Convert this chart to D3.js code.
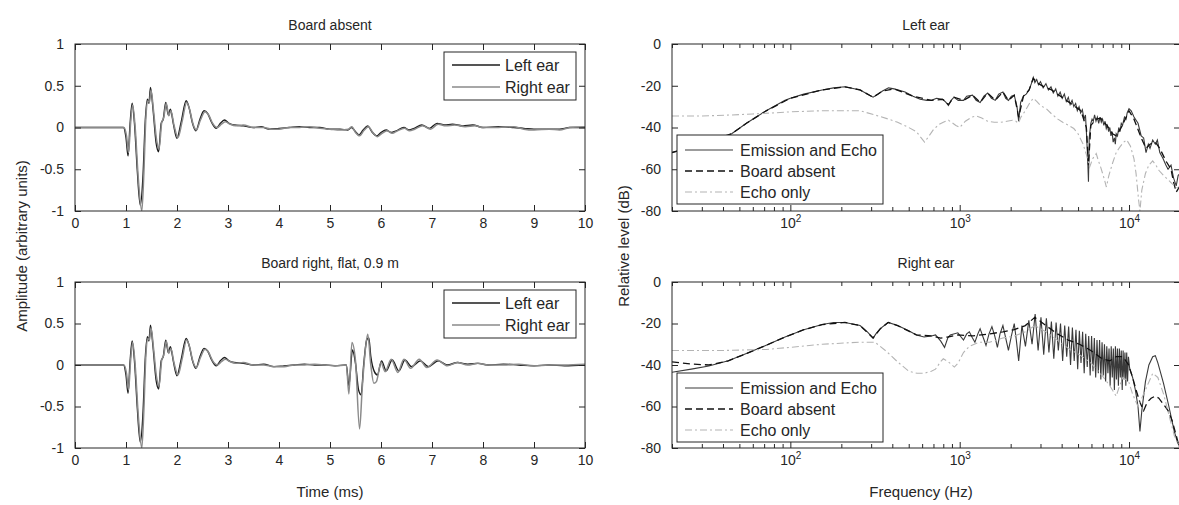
<!DOCTYPE html>
<html>
<head>
<meta charset="utf-8">
<script src="https://cdn.jsdelivr.net/npm/d3@7"></script>
<style>
  body { margin: 0; background: #fff; }
  text { font-family: "Liberation Sans", Arial, sans-serif; fill: #262626; }
</style>
</head>
<body>
<svg id="chart" width="1179" height="505"></svg>
<script>
// ---- data ----
const timeTicks = [0, 1, 2, 3, 4, 5, 6, 7, 8, 9, 10];
const ampTicks = [-1, -0.5, 0, 0.5, 1];
const dbTicks = [-80, -60, -40, -20, 0];
const freqMajor = [100, 1000, 10000];
const freqMinor = [20, 30, 40, 50, 60, 70, 80, 90, 200, 300, 400, 500, 600, 700, 800, 900,
  2000, 3000, 4000, 5000, 6000, 7000, 8000, 9000, 20000];

// emission part (t < 3.2 ms), same in both time panels
const emissionLeft = [[0,0],[0.95,0],[1.0,-0.12],[1.04,-0.34],[1.08,0.04],[1.12,0.29],[1.17,0.02],[1.22,-0.5],[1.28,-0.93],[1.33,-0.62],[1.38,0.1],[1.42,0.34],[1.45,0.29],[1.48,0.48],[1.53,0.22],[1.59,-0.18],[1.64,-0.29],[1.69,0.05],[1.73,0.1],[1.78,0.3],[1.83,0.15],[1.87,0.22],[1.93,0.04],[2.0,-0.13],[2.08,0.06],[2.18,0.32],[2.24,0.23],[2.3,0.06],[2.37,-0.04],[2.45,0.1],[2.53,0.2],[2.6,0.17],[2.68,0.06],[2.77,-0.01],[2.85,0.05],[2.93,0.09],[3.02,0.05],[3.12,0.03]];
const emissionRight = [[0,0],[0.96,0],[1.01,-0.1],[1.05,-0.3],[1.09,0.05],[1.13,0.27],[1.18,0.0],[1.24,-0.6],[1.31,-1.0],[1.35,-0.55],[1.39,0.12],[1.43,0.32],[1.46,0.3],[1.49,0.45],[1.54,0.2],[1.6,-0.15],[1.65,-0.25],[1.7,0.06],[1.74,0.12],[1.79,0.29],[1.84,0.14],[1.88,0.2],[1.94,0.03],[2.02,-0.12],[2.1,0.07],[2.19,0.3],[2.25,0.21],[2.31,0.05],[2.38,-0.03],[2.46,0.09],[2.55,0.19],[2.62,0.15],[2.7,0.05],[2.79,0.0],[2.87,0.04],[2.95,0.07],[3.04,0.04],[3.15,0.02]];

// tails after 3.2 ms
const absentTailLeft = [[3.3,0.02],[3.5,0.0],[3.65,0.01],[3.8,-0.02],[4.0,-0.01],[4.2,0.0],[4.4,0.01],[4.6,0.0],[4.8,0.0],[5.0,-0.02],[5.2,-0.02],[5.35,-0.03],[5.42,0.0],[5.5,-0.05],[5.57,-0.09],[5.65,-0.03],[5.74,0.02],[5.82,-0.05],[5.92,-0.1],[6.0,-0.06],[6.1,-0.03],[6.2,-0.06],[6.3,-0.04],[6.45,0.0],[6.55,-0.03],[6.65,-0.01],[6.8,0.03],[6.95,-0.01],[7.1,0.05],[7.25,0.03],[7.4,0.04],[7.6,0.02],[7.8,0.03],[8.0,0.0],[8.3,0.01],[8.6,0.0],[8.8,-0.01],[9.0,-0.02],[9.3,-0.02],[9.5,-0.02],[9.7,0.0],[10,0.0]];
const absentTailRight = [[3.3,0.03],[3.5,0.0],[3.7,0.0],[3.85,-0.02],[4.0,-0.02],[4.2,0.0],[4.4,0.0],[4.6,0.01],[4.8,-0.01],[5.0,-0.02],[5.2,-0.03],[5.36,-0.02],[5.43,0.01],[5.5,-0.06],[5.58,-0.1],[5.66,-0.04],[5.75,0.01],[5.84,-0.06],[5.93,-0.11],[6.02,-0.07],[6.12,-0.04],[6.22,-0.07],[6.32,-0.04],[6.46,-0.01],[6.56,-0.04],[6.66,-0.02],[6.82,0.02],[6.97,-0.02],[7.12,0.04],[7.27,0.02],[7.45,0.03],[7.65,0.01],[7.85,0.02],[8.0,0.0],[8.3,0.0],[8.6,0.01],[8.8,-0.02],[9.0,-0.03],[9.3,-0.02],[9.5,-0.03],[9.7,0.0],[10,0.01]];
const boardTailLeft = [[3.3,0.02],[3.5,0.0],[3.7,0.01],[3.9,-0.02],[4.1,-0.01],[4.3,0.0],[4.5,0.01],[4.7,0.0],[4.9,0.0],[5.1,-0.01],[5.32,0.0],[5.37,-0.25],[5.44,0.18],[5.5,0.02],[5.56,-0.3],[5.61,-0.36],[5.66,0.0],[5.72,0.3],[5.76,0.33],[5.8,0.1],[5.87,-0.08],[5.93,-0.12],[6.01,0.05],[6.1,-0.07],[6.22,0.06],[6.35,-0.07],[6.47,0.06],[6.6,-0.02],[6.77,0.05],[6.93,-0.02],[7.12,0.05],[7.3,0.0],[7.5,0.03],[7.7,0.01],[7.9,0.02],[8.1,0.0],[8.4,0.01],[8.7,0.0],[9.0,-0.01],[9.3,0.0],[9.6,-0.01],[10,0.0]];
const boardTailRight = [[3.3,0.03],[3.5,0.0],[3.7,0.0],[3.9,-0.02],[4.1,-0.02],[4.3,0.0],[4.5,0.0],[4.7,0.01],[4.9,0.0],[5.1,-0.01],[5.32,0.0],[5.37,-0.35],[5.43,0.27],[5.5,0.05],[5.58,-0.77],[5.63,-0.3],[5.68,0.1],[5.74,0.37],[5.8,0.0],[5.86,-0.22],[5.91,-0.2],[6.0,0.03],[6.08,-0.08],[6.2,0.07],[6.33,-0.09],[6.45,0.07],[6.58,-0.04],[6.75,0.07],[6.9,-0.03],[7.1,0.06],[7.3,-0.01],[7.5,0.03],[7.7,0.0],[7.9,0.02],[8.1,0.0],[8.4,0.0],[8.7,0.01],[9.0,-0.01],[9.3,0.0],[9.6,0.0],[10,0.01]];

// spectra [Hz, dB]
const leftEmissionEcho = [[20,-52],[25,-50],[32,-47],[40,-45],[45,-43],[55,-38],[72,-32],[93,-27],[100,-26],[120,-24],[154,-22],[180,-21],[210,-20.5],[258,-22],[285,-24],[308,-25.5],[330,-24],[350,-22.5],[380,-21],[410,-21.5],[476,-23],[530,-25],[584,-26.5],[640,-27],[681,-27],[730,-26],[794,-26.5],[830,-28],[858,-29.5],[890,-27],[926,-25.5],[980,-27],[1053,-27],[1100,-25],[1192,-24.5],[1250,-27],[1321,-28],[1390,-25],[1464,-23.5],[1540,-26],[1622,-27],[1700,-24],[1800,-23],[1870,-26],[1942,-27],[2020,-25],[2100,-24.5],[2180,-30],[2230,-37],[2290,-28],[2380,-25],[2470,-24],[2570,-22],[2650,-19],[2720,-16],[2780,-18.5],[2850,-17],[2920,-19.5],[3000,-18],[3110,-21],[3230,-19],[3340,-22],[3460,-20.5],[3570,-23.5],[3690,-21.5],[3800,-25],[3920,-23],[4030,-26],[4150,-24],[4260,-27.5],[4380,-25.5],[4490,-29],[4610,-27],[4720,-30],[4840,-28.5],[4950,-32],[5070,-30],[5180,-33],[5300,-31.5],[5420,-36],[5530,-34],[5600,-42],[5700,-55],[5760,-66],[5820,-45],[5950,-38],[6050,-36],[6150,-37],[6260,-34],[6380,-37],[6500,-35],[6620,-38],[6740,-35],[6860,-37.5],[6980,-36],[7100,-39],[7220,-37],[7340,-40.5],[7460,-39],[7580,-42],[7700,-40],[7820,-44],[7940,-42],[8060,-47],[8200,-45],[8300,-48],[8400,-43],[8550,-44],[8700,-40],[8850,-42],[9000,-38],[9150,-39],[9400,-35],[9600,-36],[9750,-33],[10000,-31],[10300,-32],[10700,-35],[11300,-38],[11800,-44],[12200,-45],[12600,-52],[13000,-48],[13300,-50],[13800,-46],[14300,-48],[14700,-46],[15200,-52],[15900,-55],[16500,-58],[17000,-60],[17700,-58],[18300,-64],[19000,-68],[19500,-63],[20000,-62]];
const leftBoardAbsent = [[20,-52],[32,-47],[45,-43],[55,-38],[72,-32],[100,-26],[154,-22],[210,-20.5],[258,-22],[308,-25.5],[350,-22.5],[410,-21.5],[530,-25],[681,-27],[794,-26.5],[858,-29],[926,-25.5],[1053,-27],[1192,-24.5],[1321,-28],[1464,-23.5],[1622,-27],[1800,-23],[1942,-27],[2100,-24.5],[2230,-35],[2380,-25],[2570,-22],[2720,-16.5],[2920,-19],[3150,-20.5],[3490,-22],[3860,-24.5],[4260,-27],[4720,-29.5],[5200,-32],[5600,-40],[5760,-58],[5950,-39],[6400,-36],[6800,-35.5],[7400,-39],[8000,-43],[8400,-44],[9000,-40],[9750,-34],[10000,-32],[10700,-36],[11800,-45],[12600,-50],[13300,-48],[14300,-47],[15200,-50],[16500,-56],[17700,-60],[18300,-66],[19000,-71],[20000,-68]];
const leftEchoOnly = [[20,-34.5],[30,-34.5],[45,-34],[60,-33.5],[80,-33],[100,-32.5],[150,-32],[200,-32],[258,-32],[316,-34],[380,-36],[430,-37.5],[500,-40],[555,-42],[620,-47],[660,-44],[700,-41],[755,-38.5],[800,-37.5],[858,-36.5],[950,-39],[1000,-40],[1080,-37],[1180,-35],[1260,-34.5],[1350,-35.5],[1464,-37],[1600,-37.5],[1750,-37.5],[1900,-37],[2050,-36.5],[2150,-37],[2220,-38],[2300,-35],[2440,-32],[2600,-28],[2720,-26],[2850,-27.5],[3000,-29.5],[3250,-31],[3490,-33.5],[3800,-36],[4060,-37.5],[4400,-39],[4720,-40.5],[5000,-43],[5360,-48],[5600,-53],[5850,-59],[6100,-55],[6400,-52.5],[6600,-56],[6800,-59],[7100,-64],[7350,-68.5],[7600,-63],[8000,-57],[8400,-52],[8800,-49.5],[9300,-47],[9700,-46],[10200,-49],[10700,-55],[11000,-62],[11400,-75],[11600,-80],[11900,-70],[12500,-62],[13100,-58],[13800,-56],[14400,-58],[15000,-60.5],[16000,-63],[17000,-65],[18000,-67],[19000,-68.5],[20000,-70]];

const rightEmissionEcho = [[20,-43.5],[26,-42],[33,-40.5],[43,-38],[55,-34.5],[72,-30.5],[93,-26.5],[120,-23],[154,-20.5],[180,-19.5],[210,-19.5],[258,-21],[285,-24],[308,-27],[320,-25],[340,-22.5],[378,-19.5],[430,-21],[500,-23.5],[555,-25.5],[616,-26.5],[680,-26],[720,-25.5],[773,-28.5],[814,-31.5],[850,-27],[880,-25.5],[975,-24.5],[1053,-28],[1100,-25],[1140,-24],[1190,-27],[1230,-29],[1280,-25],[1320,-22.5],[1380,-27],[1430,-30.5],[1490,-25],[1550,-21.5],[1610,-26],[1670,-31.5],[1730,-25],[1800,-21],[1870,-27],[1940,-33],[2020,-26],[2100,-20],[2160,-28],[2230,-38],[2330,-21],[2445,-31],[2560,-18.5],[2675,-30],[2790,-15.5],[2905,-33],[3020,-17],[3135,-35],[3250,-17.5],[3365,-34],[3480,-19],[3595,-37],[3710,-19.5],[3825,-33],[3940,-20],[4055,-38],[4170,-21],[4285,-36],[4400,-21.5],[4515,-40],[4630,-22],[4745,-38],[4860,-23],[4975,-42],[5090,-23.5],[5205,-39],[5320,-24],[5435,-44],[5550,-25],[5665,-41],[5780,-26],[5895,-45],[6010,-26],[6125,-43],[6240,-27],[6355,-46],[6470,-28],[6585,-44],[6700,-28],[6815,-47],[6930,-29],[7045,-45],[7160,-30],[7275,-48],[7390,-31],[7505,-44],[7620,-32],[7735,-50],[7850,-31],[7965,-46],[8080,-32],[8195,-52],[8310,-31],[8425,-47],[8540,-32],[8655,-50],[8770,-32],[8885,-46],[9000,-33],[9115,-52],[9230,-33],[9345,-47],[9460,-34],[9575,-50],[9690,-34],[9805,-48],[9920,-36],[10100,-42],[10500,-46],[10900,-52],[11300,-60],[11600,-72],[11900,-62],[12500,-48],[13100,-40],[13800,-36],[14300,-35.5],[14800,-39],[15400,-44],[16000,-49],[17200,-60],[18500,-72],[19300,-77],[20000,-80]];
const rightBoardAbsent = [[20,-38.5],[26,-39.5],[33,-40],[43,-38],[55,-34.5],[72,-30.5],[93,-26.5],[120,-23],[154,-20.5],[210,-19.5],[258,-21],[308,-27],[340,-22.5],[378,-19.5],[430,-21],[555,-25.5],[680,-26],[773,-27],[850,-26.5],[975,-25.5],[1200,-26],[1500,-25],[1800,-24],[2100,-23],[2440,-21],[2780,-17],[3230,-21],[3780,-25],[4380,-28],[5100,-30],[5950,-33],[6930,-37],[7700,-38],[8400,-36],[9200,-36],[9950,-40],[10500,-46],[11000,-52],[11600,-58],[12200,-62],[12800,-58],[13500,-56],[14300,-55],[15000,-56],[16000,-59],[17000,-62],[18000,-67],[19000,-74],[19700,-79],[20000,-80]];
const rightEchoOnly = [[20,-33],[40,-33],[72,-32.5],[100,-31.5],[154,-30],[258,-29],[316,-29],[370,-33.5],[430,-38.5],[500,-43],[560,-44],[616,-44],[680,-43],[720,-42],[770,-38.5],[800,-37],[858,-38.5],[930,-41],[980,-39],[1053,-34],[1140,-31],[1300,-29],[1500,-29],[1800,-27],[2100,-26],[2440,-24],[2780,-21],[3230,-24],[3780,-28],[4380,-32],[5100,-35],[5950,-39],[6930,-45],[7700,-50],[8400,-55],[8800,-50],[9200,-46],[9950,-48],[10500,-54],[11300,-60],[12500,-52],[13800,-44],[14800,-46],[16000,-54],[17200,-64],[18500,-74],[20000,-80]];

// ---- layout ----
const svg = d3.select('#chart');
const leftX = [75, 585];
const rightX = [672, 1180];
const rows = [[44, 211], [282, 448]];
const fontFamily = '"Liberation Sans", Arial, sans-serif';

function clipFor(id, x0, x1, y0, y1) {
    svg.append('clipPath').attr('id', id)
        .append('rect').attr('x', x0).attr('y', y0).attr('width', x1 - x0).attr('height', y1 - y0);
    return `url(#${id})`;
}

function styleAxis(g) {
    g.select('.domain').remove();
    g.attr('font-size', 14).attr('font-family', fontFamily).attr('color', '#262626');
}

// inward ticks on all four sides, like a matlab box
function drawAxes(x, y, xs, ys, xTicks, yTicks, yFmt, log) {
    const [x0, x1] = xs, [y0, y1] = ys;
    const bottom = svg.append('g').attr('transform', `translate(0,${y1})`)
        .call(d3.axisBottom(x).tickValues(xTicks).tickSize(-6).tickSizeOuter(0).tickPadding(7)
            .tickFormat(log ? () => '' : d => String(d)))
        .call(styleAxis);
    svg.append('g').attr('transform', `translate(0,${y0})`)
        .call(d3.axisTop(x).tickValues(xTicks).tickSize(-6).tickSizeOuter(0).tickFormat(() => ''))
        .call(styleAxis);
    if (log) {
        bottom.selectAll('.tick text').text('10')
            .append('tspan').attr('dy', '-0.55em').attr('font-size', 10).text(d => Math.log10(d));
        [y0, y1].forEach((yy, i) => {
            const ax = i ? d3.axisBottom(x) : d3.axisTop(x);
            svg.append('g').attr('transform', `translate(0,${yy})`)
                .call(ax.tickValues(freqMinor).tickSize(-4).tickSizeOuter(0).tickFormat(() => ''))
                .call(styleAxis);
        });
    }
    svg.append('g').attr('transform', `translate(${x0},0)`)
        .call(d3.axisLeft(y).tickValues(yTicks).tickSize(-6).tickSizeOuter(0).tickPadding(11).tickFormat(yFmt))
        .call(styleAxis);
    svg.append('g').attr('transform', `translate(${x1},0)`)
        .call(d3.axisRight(y).tickValues(yTicks).tickSize(-6).tickSizeOuter(0).tickFormat(() => ''))
        .call(styleAxis);
    svg.append('rect').attr('x', x0).attr('y', y0).attr('width', x1 - x0).attr('height', y1 - y0)
        .attr('fill', 'none').attr('stroke', '#262626').attr('stroke-width', 1);
}

function drawLegend(bx0, bx1, by0, by1, lineX, textX, entries) {
    svg.append('rect').attr('x', bx0).attr('y', by0).attr('width', bx1 - bx0).attr('height', by1 - by0)
        .attr('fill', '#fff').attr('stroke', '#262626').attr('stroke-width', 1);
    entries.forEach(e => {
        svg.append('line').attr('x1', lineX[0]).attr('x2', lineX[1]).attr('y1', e.y).attr('y2', e.y)
            .attr('stroke', e.color).attr('stroke-width', e.width)
            .attr('stroke-dasharray', e.dash || null);
        svg.append('text').attr('x', textX).attr('y', e.y).attr('dy', '0.35em')
            .attr('font-size', 16).text(e.label);
    });
}

function timePanel(row, title, leftEar, rightEar) {
    const [top, bottom] = rows[row];
    const x = d3.scaleLinear().domain([0, 10]).range(leftX);
    const y = d3.scaleLinear().domain([-1, 1]).range([bottom, top]);
    const line = d3.line().x(d => x(d[0])).y(d => y(d[1])).curve(d3.curveMonotoneX);
    const clip = clipFor('clipT' + row, leftX[0], leftX[1], top, bottom);
    const g = svg.append('g').attr('clip-path', clip).attr('fill', 'none');
    g.append('path').datum(leftEar).attr('d', line).attr('stroke', '#1c1c1c').attr('stroke-width', 1.4);
    g.append('path').datum(rightEar).attr('d', line).attr('stroke', '#8a8a8a').attr('stroke-width', 1.5);
    drawAxes(x, y, leftX, [top, bottom], timeTicks, ampTicks, d => String(d), false);
    svg.append('text').attr('x', (leftX[0] + leftX[1]) / 2).attr('y', top - 14)
        .attr('text-anchor', 'middle').attr('font-size', 14).text(title);
    drawLegend(444, 576, top + 8, top + 56, [452, 500], 505, [
        { y: top + 21, label: 'Left ear', color: '#1c1c1c', width: 1.4 },
        { y: top + 43, label: 'Right ear', color: '#8a8a8a', width: 1.4 },
    ]);
}

function freqPanel(row, title, emissionEcho, boardAbsent, echoOnly) {
    const [top, bottom] = rows[row];
    const x = d3.scaleLog().domain([20, 20000]).range(rightX);
    const y = d3.scaleLinear().domain([-80, 0]).range([bottom, top]);
    const line = d3.line().x(d => x(d[0])).y(d => y(d[1]));
    const clip = clipFor('clipF' + row, rightX[0], rightX[1], top, bottom);
    const g = svg.append('g').attr('clip-path', clip).attr('fill', 'none');
    g.append('path').datum(emissionEcho).attr('d', line).attr('stroke', '#3a3a3a').attr('stroke-width', 1.1);
    g.append('path').datum(boardAbsent).attr('d', line).attr('stroke', '#111').attr('stroke-width', 1.3)
        .attr('stroke-dasharray', '7,4');
    g.append('path').datum(echoOnly).attr('d', line).attr('stroke', '#b4b4b4').attr('stroke-width', 1.1)
        .attr('stroke-dasharray', '7,3,2,3');
    drawAxes(x, y, rightX, [top, bottom], freqMajor, dbTicks, d => String(d), true);
    svg.append('text').attr('x', (rightX[0] + rightX[1]) / 2).attr('y', top - 14)
        .attr('text-anchor', 'middle').attr('font-size', 14).text(title);
    drawLegend(677, 883, top + 91, top + 160, [685, 733], 740, [
        { y: top + 106, label: 'Emission and Echo', color: '#3a3a3a', width: 1.1 },
        { y: top + 127, label: 'Board absent', color: '#111', width: 1.3, dash: '7,4' },
        { y: top + 148, label: 'Echo only', color: '#b4b4b4', width: 1.1, dash: '7,3,2,3' },
    ]);
}

timePanel(0, 'Board absent', emissionLeft.concat(absentTailLeft), emissionRight.concat(absentTailRight));
timePanel(1, 'Board right, flat, 0.9 m', emissionLeft.concat(boardTailLeft), emissionRight.concat(boardTailRight));
freqPanel(0, 'Left ear', leftEmissionEcho, leftBoardAbsent, leftEchoOnly);
freqPanel(1, 'Right ear', rightEmissionEcho, rightBoardAbsent, rightEchoOnly);

// axis titles
svg.append('text').attr('x', (leftX[0] + leftX[1]) / 2).attr('y', 497)
    .attr('text-anchor', 'middle').attr('font-size', 15).text('Time (ms)');
svg.append('text').attr('x', (rightX[0] + rightX[1]) / 2 - 5).attr('y', 497)
    .attr('text-anchor', 'middle').attr('font-size', 15).text('Frequency (Hz)');
svg.append('text').attr('transform', 'translate(22,246) rotate(-90)').attr('dy', '0.35em')
    .attr('text-anchor', 'middle').attr('font-size', 15).text('Amplitude (arbitrary units)');
svg.append('text').attr('transform', 'translate(624,246) rotate(-90)').attr('dy', '0.35em')
    .attr('text-anchor', 'middle').attr('font-size', 15).text('Relative level (dB)');
</script>
</body>
</html>
